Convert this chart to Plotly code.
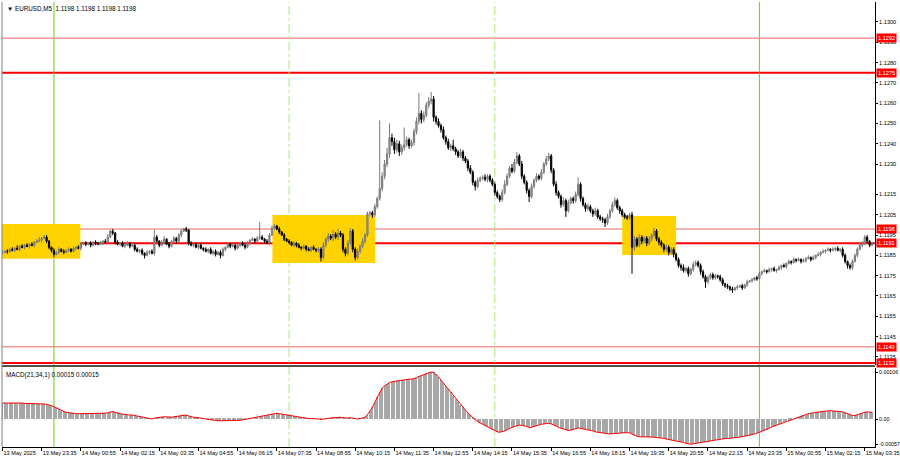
import pandas as pd
import plotly.graph_objects as go
from plotly.subplots import make_subplots

# ---------------- data ----------------
first_bar = "2025-05-13 22:15"   # M5 bars

close = [
    1.11865, 1.11870, 1.11868, 1.11880, 1.11875, 1.11885, 1.11880, 1.11895, 1.11890, 1.11900,
    1.11895, 1.11905, 1.11900, 1.11915, 1.11920, 1.11925, 1.11935, 1.11940, 1.11920, 1.11890,
    1.11875, 1.11855, 1.11865, 1.11880, 1.11870, 1.11865, 1.11875, 1.11880, 1.11870, 1.11885,
    1.11890, 1.11885, 1.11905, 1.11910, 1.11905, 1.11910, 1.11900, 1.11915, 1.11910, 1.11905,
    1.11910, 1.11920, 1.11915, 1.11940, 1.11970, 1.11960, 1.11915, 1.11905, 1.11910, 1.11895,
    1.11900, 1.11910, 1.11895, 1.11900, 1.11880, 1.11870, 1.11875, 1.11860, 1.11850, 1.11865,
    1.11870, 1.11860, 1.11940, 1.11920, 1.11900, 1.11915, 1.11930, 1.11905, 1.11895, 1.11920,
    1.11935, 1.11920, 1.11950, 1.11970, 1.11980, 1.11975, 1.11910, 1.11900, 1.11905, 1.11890,
    1.11900, 1.11885, 1.11880, 1.11870, 1.11880, 1.11860, 1.11870, 1.11855, 1.11865, 1.11850,
    1.11880, 1.11890, 1.11905, 1.11895, 1.11900, 1.11885, 1.11900, 1.11910, 1.11900, 1.11890,
    1.11910, 1.11925, 1.11930, 1.11920, 1.11935, 1.11940, 1.11930, 1.11920, 1.11910, 1.11950,
    1.11985, 1.11995, 1.11980, 1.11965, 1.11950, 1.11930, 1.11920, 1.11915, 1.11900, 1.11910,
    1.11900, 1.11890, 1.11885, 1.11895, 1.11880, 1.11875, 1.11890, 1.11880, 1.11875, 1.11880,
    1.11840, 1.11900, 1.11930, 1.11945, 1.11935, 1.11955, 1.11940, 1.11960, 1.11950, 1.11880,
    1.11860, 1.11910, 1.11970, 1.11880, 1.11840, 1.11870, 1.11895, 1.11920, 1.11950, 1.12055,
    1.12060, 1.12050, 1.12090, 1.12130, 1.12180, 1.12240, 1.12300, 1.12350, 1.12430, 1.12410,
    1.12370, 1.12400, 1.12360, 1.12380, 1.12395, 1.12420, 1.12390, 1.12405, 1.12460, 1.12510,
    1.12550, 1.12520, 1.12540, 1.12590, 1.12610, 1.12620, 1.12530, 1.12510, 1.12490, 1.12470,
    1.12430, 1.12410, 1.12380, 1.12390, 1.12375, 1.12360, 1.12340, 1.12360, 1.12330, 1.12315,
    1.12280, 1.12260, 1.12210, 1.12190, 1.12220, 1.12230, 1.12235, 1.12225, 1.12240, 1.12220,
    1.12200, 1.12160, 1.12140, 1.12125, 1.12160, 1.12200, 1.12240, 1.12280, 1.12265, 1.12310,
    1.12340, 1.12300, 1.12240, 1.12210, 1.12170, 1.12140, 1.12190, 1.12220, 1.12240, 1.12230,
    1.12260, 1.12300, 1.12325, 1.12340, 1.12270, 1.12200, 1.12160, 1.12140, 1.12100, 1.12120,
    1.12070, 1.12110, 1.12130, 1.12120, 1.12150, 1.12200, 1.12130, 1.12100, 1.12080, 1.12090,
    1.12070, 1.12055, 1.12070, 1.12040, 1.12030, 1.12025, 1.12010, 1.12040, 1.12070, 1.12100,
    1.12120, 1.12085, 1.12070, 1.12050, 1.12040, 1.12035, 1.12050, 1.11890, 1.11930, 1.11900,
    1.11940, 1.11920, 1.11935, 1.11910, 1.11930, 1.11950, 1.11970, 1.11930, 1.11915, 1.11900,
    1.11880, 1.11890, 1.11865, 1.11880, 1.11855, 1.11830, 1.11800, 1.11790, 1.11775, 1.11785,
    1.11760, 1.11780, 1.11805, 1.11815, 1.11800, 1.11770, 1.11745, 1.11720, 1.11740, 1.11755,
    1.11740, 1.11750, 1.11745, 1.11730, 1.11710, 1.11700, 1.11695, 1.11685, 1.11680, 1.11690,
    1.11695, 1.11700, 1.11690, 1.11705, 1.11720, 1.11725, 1.11730, 1.11740, 1.11735, 1.11760,
    1.11770, 1.11775, 1.11770, 1.11780, 1.11785, 1.11775, 1.11780, 1.11790, 1.11800, 1.11795,
    1.11810, 1.11820, 1.11815, 1.11830, 1.11825, 1.11830, 1.11820, 1.11825, 1.11835, 1.11840,
    1.11830, 1.11840, 1.11850, 1.11855, 1.11865, 1.11870, 1.11875, 1.11880, 1.11875, 1.11880,
    1.11885, 1.11875, 1.11880, 1.11850, 1.11820, 1.11800, 1.11790, 1.11820, 1.11850, 1.11880,
    1.11900, 1.11910, 1.11940, 1.11920, 1.11900, 1.11910,
]

# upper / lower shadow lengths of each candle, in pips
wick_up = [
    1, 0.5, 1, 0.5, 1, 0.5, 1.5, 0.5, 1, 0.5,
    1, 0.5, 1, 0.5, 1, 1.5, 0.5, 1, 1, 0.5,
    0.5, 1, 0.5, 1, 0.5, 1, 0.5, 1, 0.5, 1,
    0.5, 1, 1, 0.5, 1, 0.5, 1, 0.5, 1, 0.5,
    1, 0.5, 1, 1.5, 0.5, 1, 0.5, 1, 0.5, 1,
    0.5, 1, 0.5, 1, 0.5, 1, 0.5, 1, 0.5, 1,
    0.5, 1, 3.5, 1, 0.5, 1, 1.5, 0.5, 1, 0.5,
    1, 0.5, 1, 1, 0.5, 1, 0.5, 1, 0.5, 1,
    0.5, 1, 0.5, 1, 0.5, 1, 0.5, 1, 0.5, 1,
    1, 0.5, 1, 0.5, 1, 0.5, 1, 0.5, 1, 0.5,
    1, 0.5, 1, 0.5, 1, 7.5, 1, 0.5, 1, 1,
    1, 1, 0.5, 1, 0.5, 1, 0.5, 1, 0.5, 1,
    0.5, 1, 0.5, 1, 0.5, 1, 0.5, 1, 0.5, 1,
    1, 1.5, 1, 1.5, 1, 2, 1, 2, 1, 1,
    1, 1.5, 1.5, 1, 1, 1.5, 1, 1.5, 1, 1,
    1, 1, 1.5, 1, 33.5, 2, 2, 3, 7, 2,
    2, 2, 1.5, 1.5, 8.5, 1.5, 1, 1.5, 1.5, 2,
    10, 1.5, 2, 1.5, 2, 3.5, 1.5, 1, 1.5, 1,
    1.5, 1, 1.5, 1, 3, 1, 1, 1.5, 1, 1,
    1, 1.5, 1, 1, 1.5, 1, 1, 1.5, 1, 1,
    1, 1, 1, 1, 1.5, 2, 1.5, 1, 2, 1.5,
    2, 1, 1.5, 1, 1, 1, 1.5, 1, 1.5, 1,
    1.5, 1, 1.5, 1.5, 1, 1, 1.5, 1, 1, 1.5,
    1, 1.5, 1, 1, 1.5, 3.5, 1, 1, 1, 1.5,
    1, 1, 1.5, 1, 1, 1, 1, 1.5, 1, 1.5,
    1.5, 1, 1, 1, 1, 1, 1, 1.5, 1.5, 1,
    1.5, 1, 1, 1, 1.5, 1, 1.5, 1, 1, 1,
    1, 1.5, 1, 1, 1, 1, 1, 1, 1.5, 1,
    1, 1, 1.5, 1, 1, 1, 1, 1, 1, 1,
    1, 1, 0.5, 1, 1, 0.5, 1, 0.5, 1, 0.5,
    1, 0.5, 1, 0.5, 1, 0.5, 1, 0.5, 1, 1,
    0.5, 1, 0.5, 1, 0.5, 1, 0.5, 1, 0.5, 1,
    0.5, 1, 0.5, 1, 0.5, 1, 0.5, 1, 0.5, 1,
    0.5, 1, 0.5, 1, 0.5, 1, 0.5, 1, 0.5, 1,
    0.5, 1, 0.5, 1, 1, 0.5, 1, 1, 1, 1,
    1, 1, 1, 1, 0.5, 0.5,
]
wick_dn = [
    1, 0.5, 1, 0.5, 0.5, 1, 0.5, 1, 0.5, 1,
    0.5, 1, 0.5, 1, 0.5, 0.5, 1, 0.5, 1, 1,
    1, 1.5, 0.5, 1, 0.5, 1, 0.5, 1, 0.5, 0.5,
    1, 0.5, 1, 0.5, 1, 0.5, 1, 0.5, 1, 0.5,
    0.5, 1, 0.5, 1, 0.5, 1, 1, 0.5, 1, 0.5,
    1, 0.5, 1, 0.5, 1, 0.5, 1, 1, 1.5, 0.5,
    1, 0.5, 1, 0.5, 1, 0.5, 1, 0.5, 1, 0.5,
    0.5, 1, 0.5, 1, 0.5, 1, 1, 0.5, 1, 0.5,
    1, 0.5, 1, 0.5, 1, 0.5, 1, 1, 0.5, 1.5,
    0.5, 1, 0.5, 1, 0.5, 1, 0.5, 1, 0.5, 1,
    0.5, 1, 0.5, 1, 0.5, 1, 0.5, 1, 0.5, 1,
    0.5, 1, 0.5, 1, 0.5, 1, 0.5, 1, 0.5, 1,
    1, 0.5, 1, 0.5, 1, 0.5, 1, 0.5, 1, 1,
    2, 1, 1, 1.5, 1, 1.5, 1, 1.5, 1, 1.5,
    1.5, 1, 1, 1.5, 1.5, 1, 1, 1, 1, 1,
    1, 1.5, 1, 1, 1, 1.5, 1.5, 1.5, 2, 2,
    2, 1.5, 2, 1.5, 1.5, 1, 1.5, 1, 1.5, 1.5,
    1.5, 2, 1.5, 1, 1.5, 1.5, 2, 1.5, 1, 1.5,
    1, 1.5, 1, 1.5, 1, 1.5, 1, 1, 1.5, 1,
    1.5, 1, 1.5, 2, 1, 1, 1, 1, 1.5, 1,
    1, 1.5, 1, 1.2, 1, 1, 1, 1, 1, 1,
    1, 1, 1.5, 1, 1.5, 2.7, 1, 1, 1, 1,
    1, 1, 1, 1, 1.5, 1, 1.5, 1, 1.5, 1,
    3, 1, 1, 1.5, 1, 1, 1.5, 1, 1.5, 1,
    1, 1.5, 1, 1, 1, 1.5, 2, 1, 1, 1,
    1, 1, 1.5, 1, 1, 1, 1, 13, 1.5, 1,
    1, 1.5, 1, 1.5, 1, 1, 1, 1, 1.5, 1,
    1.5, 1, 1.5, 1, 1.5, 1, 1, 1.5, 1, 1,
    1.5, 1, 1, 1, 1, 1.5, 1, 3, 1, 1,
    1, 1, 1, 1, 1, 1, 1, 1, 1.5, 0.5,
    1, 0.5, 1, 0.5, 1, 0.5, 1, 0.5, 1, 0.5,
    1, 0.5, 1, 0.5, 1, 0.5, 1, 0.5, 1, 0.5,
    1, 0.5, 1, 0.5, 1, 0.5, 1, 0.5, 1, 0.5,
    1, 0.5, 1, 0.5, 1, 0.5, 1, 0.5, 1, 0.5,
    1, 0.5, 1, 1, 1, 1.5, 1, 1, 0.5, 1,
    0.5, 1, 1, 1, 1, 0.5,
]

# MACD(21,34,1) histogram, in units of 0.00001
macd_e5 = [
    36, 36, 37, 37, 36, 36, 37, 36, 36, 35,
    35, 35, 35, 34, 34, 34, 34, 34, 33, 32,
    30, 28, 25, 22, 19, 17, 15, 14, 13, 13,
    12, 12, 12, 12, 13, 12, 12, 12, 13, 12,
    12, 13, 13, 14, 16, 17, 15, 13, 12, 11,
    10, 10, 9, 9, 8, 7, 6, 5, 3, 2,
    1, 0, 2, 3, 3, 4, 5, 5, 4, 4,
    5, 6, 7, 8, 9, 9, 7, 5, 4, 3,
    3, 2, 1, 0, -1, -2, -3, -3, -4, -4,
    -4, -4, -4, -4, -4, -3, -3, -3, -2, -1,
    0, 1, 2, 3, 4, 5, 6, 7, 8, 9,
    11, 12, 13, 12, 11, 10, 9, 8, 7, 6,
    5, 5, 4, 3, 2, 1, 1, 1, 0, 0,
    -1, 0, 1, 2, 2, 3, 3, 4, 4, 3,
    2, 2, 3, 2, 0, 0, 1, 2, 4, 10,
    18, 26, 38, 50, 62, 70, 75, 79, 82, 84,
    85, 86, 87, 88, 89, 90, 90, 90, 91, 93,
    96, 98, 100, 103, 105, 106, 105, 101, 95, 88,
    81, 74, 67, 60, 53, 46, 39, 32, 26, 20,
    14, 8, 3, -2, -6, -9, -12, -15, -18, -21,
    -24, -27, -29, -30, -29, -27, -24, -21, -19, -17,
    -15, -14, -14, -15, -17, -19, -19, -17, -15, -13,
    -12, -11, -10, -10, -11, -13, -16, -19, -21, -23,
    -25, -26, -25, -24, -22, -20, -21, -22, -23, -24,
    -25, -27, -29, -30, -31, -32, -33, -34, -34, -33,
    -33, -32, -32, -31, -31, -30, -31, -34, -37, -39,
    -40, -40, -40, -40, -41, -41, -41, -42, -42, -43,
    -44, -45, -46, -47, -48, -49, -50, -52, -53, -55,
    -56, -57, -56, -55, -54, -53, -52, -51, -50, -49,
    -48, -47, -46, -45, -45, -44, -44, -43, -43, -42,
    -42, -41, -40, -39, -38, -37, -36, -34, -32, -30,
    -28, -26, -24, -21, -18, -16, -13, -11, -9, -7,
    -5, -3, -1, 0, 2, 4, 6, 8, 10, 12,
    13, 14, 15, 16, 17, 18, 18, 18, 19, 18,
    18, 17, 17, 16, 14, 12, 9, 8, 8, 10,
    12, 14, 15, 16, 15, 15,
]

# horizontal levels
level_prices = [1.1292, 1.1275, 1.1198, 1.1191, 1.1140, 1.1132]
level_strong = [False, True, False, True, False, True]

# highlighted zones (time from, time to, price low, price high)
zone_t0 = ["2025-05-13 22:11", "2025-05-14 07:26", "2025-05-14 19:20"]
zone_t1 = ["2025-05-14 00:54", "2025-05-14 10:56", "2025-05-14 21:10"]
zone_lo = [1.11833, 1.11813, 1.11852]
zone_hi = [1.12005, 1.12049, 1.12044]

# vertical separators
vline_times = ["2025-05-14 00:00", "2025-05-14 08:00", "2025-05-14 15:00", "2025-05-15 00:00"]
vline_solid = [True, False, False, True]

# axis ticks
price_ticks = [1.1300, 1.1290, 1.1280, 1.1270, 1.1260, 1.1250, 1.1240, 1.1230, 1.1215,
               1.1205, 1.1195, 1.1185, 1.1175, 1.1165, 1.1155, 1.1145, 1.1135]
macd_ticks = [0.00106, 0.0, -0.00057]
macd_tick_text = ["0.00106", "0.00", "-0.00057"]
time_ticks = ["2025-05-13 22:15", "2025-05-13 23:35", "2025-05-14 00:55", "2025-05-14 02:15",
              "2025-05-14 03:35", "2025-05-14 04:55", "2025-05-14 06:15", "2025-05-14 07:35",
              "2025-05-14 08:55", "2025-05-14 10:15", "2025-05-14 11:35", "2025-05-14 12:55",
              "2025-05-14 14:15", "2025-05-14 15:35", "2025-05-14 16:55", "2025-05-14 18:15",
              "2025-05-14 19:35", "2025-05-14 20:55", "2025-05-14 22:15", "2025-05-14 23:35",
              "2025-05-15 00:55", "2025-05-15 02:15", "2025-05-15 03:35"]
time_tick_text = ["13 May 2025", "13 May 23:35", "14 May 00:55", "14 May 02:15", "14 May 03:35",
                  "14 May 04:55", "14 May 06:15", "14 May 07:35", "14 May 08:55", "14 May 10:15",
                  "14 May 11:35", "14 May 12:55", "14 May 14:15", "14 May 15:35", "14 May 16:55",
                  "14 May 18:15", "14 May 19:35", "14 May 20:55", "14 May 22:15", "14 May 23:35",
                  "15 May 00:55", "15 May 02:15", "15 May 03:35"]

title_text = "EURUSD,M5  1.1198 1.1198 1.1198 1.1198"
macd_label = "MACD(21,34,1) 0.00015 0.00015"

# ---------------- build ----------------
assert len(close) == len(wick_up) == len(wick_dn) == len(macd_e5)
n = len(close)
times = pd.date_range(first_bar, periods=n, freq="5min")
opens = [close[0]] + close[:-1]
highs = [max(o, c) + u / 10000 for o, c, u in zip(opens, close, wick_up)]
lows = [min(o, c) - d / 10000 for o, c, d in zip(opens, close, wick_dn)]
macd = [v / 100000 for v in macd_e5]

bar = pd.Timedelta(minutes=5)
x_range = [times[0] - 0.2 * bar, times[0] + 356.2 * bar]

FONT = "Liberation Sans"
FS = 6.3        # chart texts
FS_AX = 5.6     # axis tick labels
fig = make_subplots(rows=2, cols=1, shared_xaxes=True, vertical_spacing=0.01)

fig.add_trace(go.Candlestick(
    x=times, open=opens, high=highs, low=lows, close=close,
    increasing=dict(line=dict(color="#7a7a7a", width=1), fillcolor="#9c9c9c"),
    decreasing=dict(line=dict(color="#000000", width=1), fillcolor="#000000"),
    whiskerwidth=0, showlegend=False, hoverinfo="skip"), row=1, col=1)

fig.add_trace(go.Bar(x=times, y=macd, width=0.45 * 300000, marker_color="#a8a8a8",
                     marker_line_width=0, showlegend=False, hoverinfo="skip"), row=2, col=1)
fig.add_trace(go.Scatter(x=times, y=macd, mode="lines", line=dict(color="#ff0000", width=1),
                         showlegend=False, hoverinfo="skip"), row=2, col=1)

shapes = []
for t0, t1, lo, hi in zip(zone_t0, zone_t1, zone_lo, zone_hi):
    shapes.append(dict(type="rect", xref="x", yref="y", x0=t0, x1=t1, y0=lo, y1=hi,
                       fillcolor="#ffd200", line=dict(width=0), layer="below"))
for p, strong in zip(level_prices, level_strong):
    shapes.append(dict(type="line", xref="paper", yref="y", x0=0, x1=1, y0=p, y1=p,
                       line=dict(color="#ff0000" if strong else "#f29a9a", width=2 if strong else 1.6),
                       layer="below"))
for t, solid in zip(vline_times, vline_solid):
    shapes.append(dict(type="line", xref="x", yref="paper", x0=t, x1=t, y0=0, y1=1,
                       line=dict(color="#66d400" if solid else "#a8ea78", width=1,
                                 dash="solid" if solid else "dashdot"),
                       layer="below"))
# panel separator and left frame
shapes.append(dict(type="rect", xref="paper", yref="paper", x0=0, x1=1, y0=0.1798, y1=0.1843,
                   fillcolor="#505050", line=dict(width=0)))
shapes.append(dict(type="line", xref="paper", yref="paper", x0=0, x1=0, y0=0, y1=1,
                   line=dict(color="#808080", width=1)))

annotations = [
    dict(xref="paper", yref="paper", x=0, y=1, xanchor="left", yanchor="top", xshift=3, yshift=-1,
         text="▼ " + title_text, showarrow=False, font=dict(family=FONT, size=FS, color="#000000")),
    dict(xref="paper", yref="y2 domain", x=0, y=1, xanchor="left", yanchor="top", xshift=2, yshift=-1,
         text=macd_label, showarrow=False, font=dict(family=FONT, size=FS, color="#000000")),
]
for p in level_prices:
    annotations.append(dict(xref="paper", yref="y", x=1, y=p, xanchor="left", yanchor="middle",
                            xshift=1, text=f"{p:.4f}", showarrow=False, bgcolor="#ff0000",
                            borderpad=1, font=dict(family=FONT, size=FS_AX, color="#ffffff")))

fig.update_layout(
    width=900, height=460, margin=dict(l=2, r=25, t=2, b=13, autoexpand=False),
    paper_bgcolor="#ffffff", plot_bgcolor="#ffffff",
    shapes=shapes, annotations=annotations, showlegend=False, bargap=0,
    font=dict(family=FONT, size=FS, color="#000000"),
)
fig.update_xaxes(range=x_range, showgrid=False, zeroline=False, rangeslider_visible=False,
                 automargin=False)
fig.update_yaxes(automargin=False)
fig.update_layout(
    xaxis=dict(showticklabels=False, ticks="", showline=False),
    xaxis2=dict(tickmode="array", tickvals=time_ticks, ticktext=time_tick_text, tickangle=0,
                ticks="outside", ticklen=3, tickcolor="#000000", ticklabelposition="outside right",
                tickfont=dict(family=FONT, size=FS_AX, color="#000000"),
                showline=True, linecolor="#000000", linewidth=1),
    yaxis=dict(domain=[0.1843, 1.0], side="right", range=[1.11310, 1.130985],
               tickmode="array", tickvals=price_ticks, ticktext=[f"{v:.4f}" for v in price_ticks],
               ticks="outside", ticklen=2, tickcolor="#000000", showgrid=False, zeroline=False,
               showline=True, linecolor="#000000", linewidth=1,
               tickfont=dict(family=FONT, size=FS_AX, color="#000000")),
    yaxis2=dict(domain=[0.0, 0.1775], side="right", range=[-0.000632, 0.001151],
                tickmode="array", tickvals=macd_ticks, ticktext=macd_tick_text,
                ticks="outside", ticklen=2, tickcolor="#000000", showgrid=False, zeroline=False,
                showline=True, linecolor="#000000", linewidth=1,
                tickfont=dict(family=FONT, size=5.3, color="#000000")),
)

fig.write_html("out.html", config={"displayModeBar": False},
               post_script="document.body.style.margin='0';document.body.style.overflow='hidden';")
